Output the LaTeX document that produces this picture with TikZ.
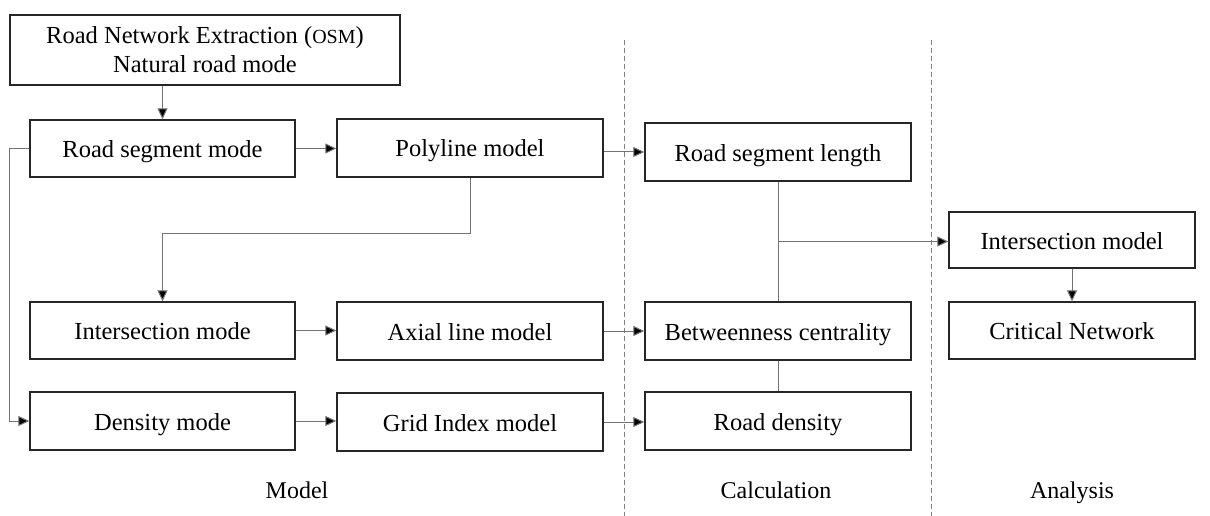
\documentclass[tikz,border=0pt]{standalone}
\usepackage{fontspec}
\setmainfont{Liberation Serif}
\usetikzlibrary{arrows.meta,calc}
\begin{document}
\begin{tikzpicture}[x=1pt,y=-1pt,
  box/.style={draw=black!85, line width=1.4pt, inner sep=0pt, minimum width=266pt, minimum height=58pt, align=center, font=\fontsize{24.5}{29}\selectfont, text height=20pt, text depth=2pt},
  conn/.style={draw=black!55, line width=1pt},
  arr/.style={conn, -{Triangle[length=11pt,width=10pt,fill=black]}},
  lbl/.style={font=\fontsize{24}{28}\selectfont, text height=17pt, text depth=5pt},
  sep/.style={draw=black!50, line width=1pt, dash pattern=on 5pt off 3pt}]
\useasboundingbox (0,0) rectangle (1210,516);
% separators
\draw[sep] (624,40) -- (624,516);
\draw[sep] (931,40) -- (931,516);
% boxes
\node[box, minimum width=390pt, minimum height=70pt, text height=, text depth=] (top) at (205,50) {\raisebox{-2pt}{Road Network Extraction ({\fontsize{20}{24}\selectfont OSM})}\\\raisebox{-2pt}{Natural road mode}};
\node[box, minimum width=265pt, minimum height=57pt] (rsm) at (162.5,148.5) {Road segment mode};
\node[box] (poly) at (470,148) {Polyline model};
\node[box] (rsl) at (778,152) {Road segment length};
\node[box, minimum width=246pt, minimum height=56pt] (imod) at (1072,240) {Intersection model};
\node[box, minimum width=246pt, minimum height=57pt] (cn) at (1072,330.5) {Critical Network};
\node[box, minimum width=265pt, minimum height=57pt] (im) at (162.5,330.5) {Intersection mode};
\node[box] (ax) at (470,331) {Axial line model};
\node[box] (bc) at (778,331) {Betweenness centrality};
\node[box, minimum width=265pt] (dm) at (162.5,421) {Density mode};
\node[box] (gi) at (470,422) {Grid Index model};
\node[box] (rd) at (778,421) {Road density};
% labels
\node[lbl] (lm) at (297,492) {Model};
\node[lbl] (lc) at (776,492) {Calculation};
\node[lbl] (la) at (1072,492) {Analysis};
% connectors
\draw[arr] (top.south -| rsm.north) -- (rsm.north);
\draw[arr] (rsm.east) -- (rsm.east -| poly.west);
\draw[arr] (poly.east |- rsl.west) -- (rsl.west);
\draw[arr] (poly.south) -- ++(0,56) -| (im.north);
\draw[arr] (rsm.west) -- ++(-20,0) |- (dm.west);
\draw[arr] (im.east) -- (im.east -| ax.west);
\draw[arr] (ax.east) -- (ax.east -| bc.west);
\draw[arr] (dm.east) -- (dm.east -| gi.west);
\draw[arr] (gi.east) -- (gi.east -| rd.west);
\draw[conn] (rsl.south) -- (bc.north);
\draw[conn] (bc.south) -- (rd.north);
\coordinate (j) at ($(rsl.south)!0.5!(bc.north)$);
\draw[arr] (j) -- (j -| imod.west);
\draw[arr] (imod.south) -- (cn.north);
\end{tikzpicture}
\end{document}
